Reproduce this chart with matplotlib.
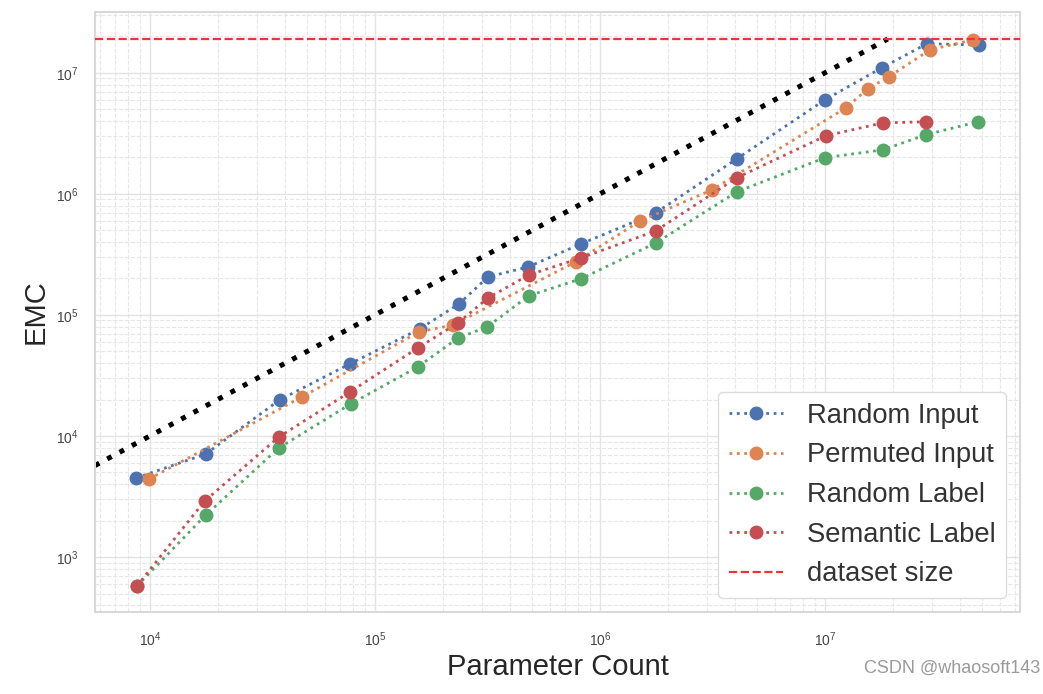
import matplotlib
matplotlib.use("Agg")
import matplotlib.pyplot as plt
from matplotlib.ticker import LogLocator

plt.rcParams['font.family'] = ['Liberation Sans', 'DejaVu Sans']

# values (log-log axes)
params_random_input = [8.7e3, 1.77e4, 3.78e4, 7.74e4, 1.58e5, 2.36e5, 3.18e5, 4.79e5,
                       8.23e5, 1.77e6, 4.06e6, 1.0e7, 1.79e7, 2.84e7, 4.83e7]
emc_random_input = [4.5e3, 7.1e3, 1.99e4, 3.94e4, 7.66e4, 1.23e5, 2.06e5, 2.49e5,
                    3.86e5, 6.97e5, 1.95e6, 5.98e6, 1.1e7, 1.74e7, 1.7e7]

params_permuted_input = [9.9e3, 4.74e4, 1.57e5, 2.22e5, 7.8e5, 1.51e6, 3.15e6,
                         1.24e7, 1.55e7, 1.92e7, 2.93e7, 4.55e7]
emc_permuted_input = [4.4e3, 2.1e4, 7.24e4, 8.26e4, 2.74e5, 5.98e5, 1.08e6,
                      5.14e6, 7.38e6, 9.26e6, 1.55e7, 1.87e7]

params_random_label = [8.75e3, 1.77e4, 3.74e4, 7.8e4, 1.55e5, 2.34e5, 3.15e5, 4.83e5,
                       8.24e5, 1.77e6, 4.06e6, 1.0e7, 1.81e7, 2.81e7, 4.79e7]
emc_random_label = [575, 2.22e3, 7.96e3, 1.84e4, 3.72e4, 6.45e4, 7.95e4, 1.44e5,
                    1.99e5, 3.93e5, 1.04e6, 1.99e6, 2.31e6, 3.08e6, 3.94e6]

params_semantic_label = [8.75e3, 1.75e4, 3.74e4, 7.74e4, 1.55e5, 2.34e5, 3.18e5, 4.83e5,
                         8.24e5, 1.77e6, 4.06e6, 1.01e7, 1.81e7, 2.81e7]
emc_semantic_label = [575, 2.9e3, 9.8e3, 2.31e4, 5.33e4, 8.59e4, 1.38e5, 2.14e5,
                      2.96e5, 4.94e5, 1.36e6, 3.02e6, 3.86e6, 3.94e6]

dataset_size = 1.9e7
ideal_x = [5.7e3, 1.9e7]  # EMC == parameter count
x_limits = [5.7e3, 7.36e7]
y_limits = [351, 3.19e7]

series = [
    ("Random Input", params_random_input, emc_random_input, "#4C72B0"),
    ("Permuted Input", params_permuted_input, emc_permuted_input, "#DD8452"),
    ("Random Label", params_random_label, emc_random_label, "#55A868"),
    ("Semantic Label", params_semantic_label, emc_semantic_label, "#C44E52"),
]

fig = plt.figure(figsize=(10.43, 6.94), dpi=100)
ax = fig.add_axes([0.091, 0.118, 0.887, 0.865])
ax.set_xscale("log")
ax.set_yscale("log")

# grid, both major and minor
ax.set_axisbelow(True)
ax.grid(which="major", color="#e3e3e3", lw=1.0, ls="-")
ax.grid(which="minor", color="#e6e6e6", lw=0.8, ls="--")
ax.xaxis.set_minor_locator(LogLocator(base=10, subs=range(2, 10), numticks=20))
ax.yaxis.set_minor_locator(LogLocator(base=10, subs=range(2, 10), numticks=20))

ax.plot(ideal_x, ideal_x, ls=(0, (1, 1.8)), color="black", lw=3.6, zorder=2)

for label, xs, ys, color in series:
    ax.plot(xs, ys, ls=":", lw=2, marker="o", markersize=9, color=color,
            label=label, zorder=3)

ax.axhline(dataset_size, ls="--", color="#ee3333", lw=1.6, label="dataset size", zorder=4)

ax.set_xlim(x_limits)
ax.set_ylim(y_limits)

for s in ax.spines.values():
    s.set_color("#d9d9d9")
    s.set_linewidth(1.5)

ax.tick_params(which="both", length=0, labelsize=10, labelcolor="#444444")
ax.tick_params(axis="x", pad=13)
ax.tick_params(axis="y", pad=12)

ax.set_xlabel("Parameter Count", fontsize=21, color="#262626", labelpad=3)
ax.set_ylabel("EMC", fontsize=21, color="#262626", labelpad=4)

leg = ax.legend(loc="lower right", fontsize=19.7, numpoints=1, framealpha=1,
                edgecolor="#dddddd", borderaxespad=0.5, handletextpad=0.85)
for t in leg.get_texts():
    t.set_color("#333333")

fig.text(0.997, 0.025, "CSDN @whaosoft143", ha="right", va="bottom",
         fontsize=13, color="#9a9a9a")

fig.savefig("out.png", dpi=100)
